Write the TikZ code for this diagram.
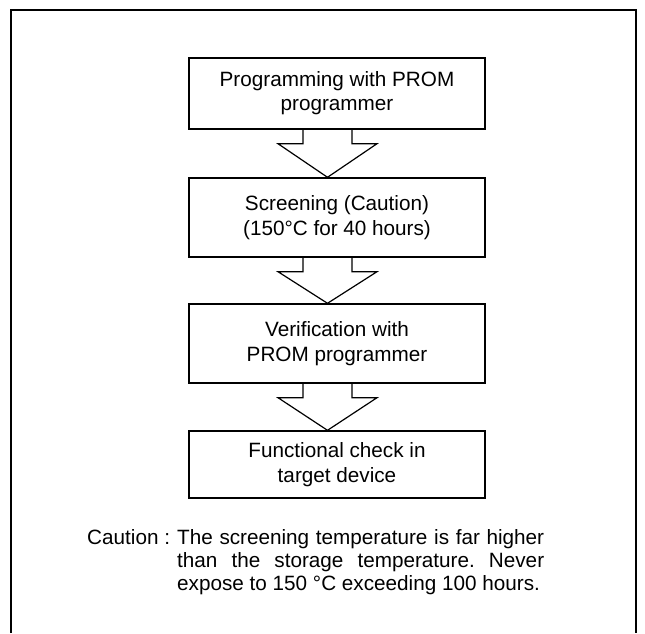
\documentclass[tikz,border=0pt]{standalone}
\usepackage{fontspec}
\setmainfont{Liberation Sans}
\usetikzlibrary{calc}
\begin{document}
\frenchspacing
\begin{tikzpicture}[x=1pt,y=-1pt,
  stepbox/.style={draw,line width=1.4pt,minimum width=296pt,inner sep=0pt,align=center,
    font=\fontsize{20.7pt}{24.8pt}\selectfont},
  flow/.style={draw,line width=1.2pt,line join=miter},
  note/.style={inner sep=0pt,anchor=base west,font=\fontsize{20.7pt}{24.8pt}\selectfont}]
\useasboundingbox (0,0) rectangle (645,633);
\draw[line width=2.6pt] (11,633) -- (11,10) -- (636,10) -- (636,633);
\node[stepbox,minimum height=71pt] (b1) at (337,93.5) {\raisebox{-2.5pt}{\begin{tabular}{@{}c@{}}Programming with PROM\\programmer\end{tabular}}};
\node[stepbox,minimum height=79pt] (b2) at (337,217.5) {Screening (Caution)\\(150°C for 40 hours)};
\node[stepbox,minimum height=79pt] (b3) at (337,343.5) {Verification with\\PROM programmer};
\node[stepbox,minimum height=67pt] (b4) at (337,464.5) {Functional check in\\target device};
\foreach \a/\b in {b1/b2,b2/b3,b3/b4}{
  \draw[flow] ([xshift=-34pt]\a.south) -- ++(0,14) -- ++(-25,0) -- ([xshift=-9.5pt]\b.north)
    -- ($([xshift=15pt]\a.south)+(25,14)$) -- ++(-25,0) -- ([xshift=15pt]\a.south);
}
\node[note] (c0) at (87,544) {Caution :};
\node[note] (c1) at (177,544) {\makebox[367pt][s]{The screening temperature is far higher}};
\node[note] (c2) at (177,567.5) {\makebox[367pt][s]{than the storage temperature. Never}};
\node[note] (c3) at (177,590) {expose to 150 °C exceeding 100 hours.};
\end{tikzpicture}
\end{document}
